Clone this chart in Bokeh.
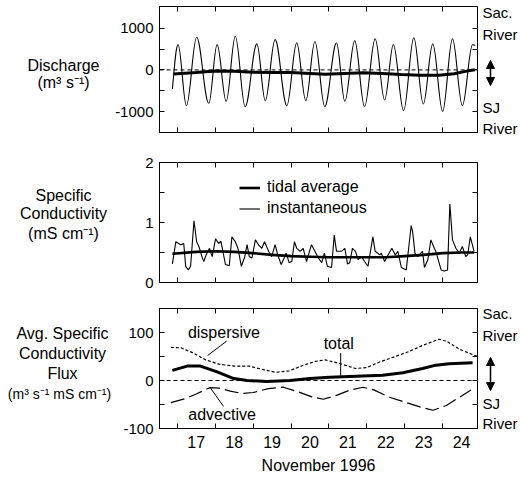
from bokeh.plotting import figure
from bokeh.layouts import column, row
from bokeh.models import (Range1d, FixedTicker, LinearAxis, Span, Label, Arrow,
                          NormalHead, Legend, LegendItem)
from bokeh.embed import file_html
from bokeh.resources import INLINE

FONT = "Liberation Sans"

# ---------------- data ----------------
day_ticks = [17, 18, 19, 20, 21, 22, 23, 24]
day_labels = ["17", "18", "19", "20", "21", "22", "23", "24"]

# Discharge: tidal extrema (day, m3/s)
tide_day = [16.87, 17.02, 17.24, 17.51, 17.83, 18.05, 18.29, 18.53, 18.79, 19.10,
            19.32, 19.58, 19.89, 20.15, 20.39, 20.63, 20.89, 21.20, 21.42, 21.68,
            21.94, 22.22, 22.47, 22.70, 22.97, 23.24, 23.49, 23.74, 24.00, 24.26,
            24.52, 24.79, 24.86]
tide_q = [-457, 607, -857, 783, -800, 607, -752, 807, -880, 623,
          -737, 727, -857, 647, -737, 680, -880, 647, -752, 703,
          -880, 743, -720, 607, -977, 767, -816, 623, -993, 743,
          -857, 607, 590]
# tidally averaged discharge
qavg_day = [16.9, 17.5, 18.0, 18.5, 19.0, 19.5, 20.0, 20.5, 20.9, 21.4, 21.9,
            22.4, 22.9, 23.4, 23.9, 24.3, 24.6, 24.85]
qavg = [-95, -60, -25, -30, -55, -60, -60, -85, -105, -85, -65,
        -85, -110, -125, -125, -90, -35, 5]

# Specific conductivity, instantaneous (mS/cm)
sc_day = [16.87, 16.96, 17.09, 17.17, 17.22, 17.29, 17.35, 17.44, 17.51, 17.57,
          17.66, 17.70, 17.76, 17.85, 17.92, 18.01, 18.09, 18.15, 18.27, 18.37,
          18.44, 18.53, 18.60, 18.69, 18.78, 18.84, 18.90, 18.97, 19.06, 19.14,
          19.23, 19.30, 19.41, 19.49, 19.58, 19.65, 19.74, 19.82, 19.87, 19.95,
          20.02, 20.09, 20.15, 20.24, 20.32, 20.41, 20.46, 20.54, 20.63, 20.72,
          20.81, 20.88, 20.96, 21.07, 21.14, 21.20, 21.33, 21.42, 21.49, 21.55,
          21.62, 21.70, 21.77, 21.86, 21.94, 22.03, 22.16, 22.22, 22.34, 22.38,
          22.47, 22.56, 22.66, 22.75, 22.82, 22.91, 23.04, 23.17, 23.21, 23.27,
          23.34, 23.47, 23.52, 23.61, 23.69, 23.78, 23.82, 23.96, 24.04, 24.13,
          24.19, 24.26, 24.35, 24.44, 24.52, 24.61, 24.66, 24.73, 24.83]
sc_inst = [0.31, 0.68, 0.63, 0.65, 0.27, 0.21, 0.27, 1.03, 0.68, 0.60,
           0.41, 0.35, 0.46, 0.57, 0.43, 0.73, 0.65, 0.69, 0.30, 0.28,
           0.76, 0.68, 0.57, 0.27, 0.43, 0.63, 0.43, 0.41, 0.71, 0.63,
           0.57, 0.68, 0.52, 0.43, 0.63, 0.46, 0.30, 0.41, 0.49, 0.33,
           0.35, 0.68, 0.57, 0.52, 0.57, 0.35, 0.46, 0.63, 0.52, 0.41,
           0.33, 0.49, 0.27, 0.25, 0.79, 0.52, 0.52, 0.57, 0.31, 0.33,
           0.57, 0.52, 0.38, 0.43, 0.35, 0.27, 0.76, 0.52, 0.46, 0.49,
           0.35, 0.46, 0.57, 0.46, 0.52, 0.25, 0.21, 0.95, 0.84, 0.49,
           0.43, 0.52, 0.25, 0.38, 0.71, 0.57, 0.52, 0.21, 0.19, 0.21,
           1.31, 0.71, 0.57, 0.49, 0.60, 0.43, 0.46, 0.76, 0.52]
# tidal average conductivity
scavg_day = [16.87, 17.5, 18.0, 18.5, 19.0, 19.5, 20.0, 20.5, 21.0, 21.5, 22.0,
             22.5, 23.0, 23.5, 24.0, 24.5, 24.83]
scavg = [0.48, 0.51, 0.52, 0.51, 0.49, 0.46, 0.44, 0.43, 0.42, 0.42, 0.42,
         0.42, 0.44, 0.46, 0.49, 0.50, 0.50]

# Average specific conductivity flux (m3/s mS/cm)
disp_day = [16.83, 17.1, 17.4, 17.75, 18.1, 18.5, 18.9, 19.25, 19.6, 19.95, 20.3,
            20.65, 20.9, 21.3, 21.7, 22.0, 22.35, 22.75, 23.1, 23.5, 23.9, 24.1,
            24.45, 24.92]
disp = [69, 68, 58, 43, 34, 30, 30, 23, 17, 20, 31,
        40, 43, 35, 25, 27, 39, 50, 60, 74, 86, 82,
        65, 50]
adv_day = [16.83, 17.2, 17.5, 17.85, 18.1, 18.4, 18.7, 19.0, 19.4, 19.8, 20.2,
           20.55, 20.85, 21.2, 21.55, 21.9, 22.2, 22.6, 23.0, 23.4, 23.75, 24.1,
           24.4, 24.75]
adv = [-46, -38, -28, -15, -16, -22, -27, -25, -17, -14, -24,
       -34, -39, -31, -20, -14, -20, -35, -45, -55, -62, -52,
       -37, -20]
tot_day = [16.87, 17.26, 17.61, 18.05, 18.49, 18.84, 19.36, 19.97, 20.50, 21.02,
           21.72, 22.42, 22.95, 23.47, 23.82, 24.17, 24.79]
tot = [21, 30, 30, 18, 4, 0, -2, 0, 4, 7,
       9, 11, 16, 25, 32, 35, 37]

# ---------------- layout constants ----------------
X0, X1 = 16.53, 24.92
LW = 112           # left title strip width
ML, MR = 45, 4     # main figure borders
FW = 320           # frame width (page x 157..477)
MW = ML + FW + MR
RX0 = LW + MW
PAGE_H = 479


def txt(lbl, size="16px"):
    lbl.text_font = FONT
    lbl.text_font_size = size
    lbl.text_color = "black"
    return lbl


def strip(x0, x1):
    """blank full-height canvas strip whose coordinates are page pixels (y downwards)"""
    s = figure(width=x1 - x0, height=PAGE_H, x_range=Range1d(x0, x1),
               y_range=Range1d(PAGE_H, 0),
               output_backend="svg", toolbar_location=None,
               x_axis_location=None, y_axis_location=None,
               min_border_left=0, min_border_right=0,
               min_border_top=0, min_border_bottom=0)
    s.grid.visible = False
    s.outline_line_color = None
    s.background_fill_color = "white"
    s.border_fill_color = "white"
    return s


def make_fig(height, top, bottom, yr, ymaj, ylabels, yminor, show_x=False):
    p = figure(width=MW, height=height, x_range=Range1d(X0, X1), y_range=yr,
               output_backend="svg", toolbar_location=None,
               x_axis_location=None, y_axis_location=None,
               min_border_left=ML, min_border_right=MR,
               min_border_top=top, min_border_bottom=bottom)
    p.grid.visible = False
    p.outline_line_color = "black"
    p.outline_line_alpha = 1
    p.background_fill_color = "white"
    p.border_fill_color = "white"

    mid = [d + 0.5 for d in day_ticks]
    for loc in ("below", "above"):
        if loc == "below" and show_x:
            ax = LinearAxis(ticker=FixedTicker(ticks=mid, minor_ticks=day_ticks),
                            major_tick_in=0, major_tick_out=0,
                            minor_tick_in=5, minor_tick_out=0,
                            axis_line_color="black", minor_tick_line_color="black")
            ax.major_label_overrides = {m: l for m, l in zip(mid, day_labels)}
            ax.major_label_text_font = FONT
            ax.major_label_text_font_size = "16px"
            ax.major_label_text_color = "black"
            ax.major_label_standoff = 7
            ax.axis_label = "November 1996"
            ax.axis_label_text_font = FONT
            ax.axis_label_text_font_size = "16px"
            ax.axis_label_text_font_style = "normal"
            ax.axis_label_text_color = "black"
            ax.axis_label_standoff = 6
        else:
            ax = LinearAxis(ticker=FixedTicker(ticks=[], minor_ticks=day_ticks),
                            major_tick_in=0, major_tick_out=0,
                            minor_tick_in=5, minor_tick_out=0,
                            axis_line_color="black", minor_tick_line_color="black",
                            major_label_standoff=0)
        p.add_layout(ax, loc)

    ay = LinearAxis(ticker=FixedTicker(ticks=ymaj, minor_ticks=yminor),
                    major_tick_in=5, major_tick_out=0, minor_tick_in=5, minor_tick_out=0,
                    axis_line_color="black", major_tick_line_color="black",
                    minor_tick_line_color="black")
    ay.major_label_overrides = {t: l for t, l in zip(ymaj, ylabels)}
    ay.major_label_text_font = FONT
    ay.major_label_text_font_size = "15px"
    ay.major_label_text_color = "black"
    ay.major_label_standoff = 6
    p.add_layout(ay, "left")

    ar = LinearAxis(ticker=FixedTicker(ticks=[], minor_ticks=ymaj + yminor),
                    major_tick_in=0, major_tick_out=0, minor_tick_in=5, minor_tick_out=0,
                    axis_line_color="black", minor_tick_line_color="black",
                    major_label_standoff=0)
    p.add_layout(ar, "right")
    return p


# ---------------- panel 1: discharge ----------------
p1 = make_fig(147, 6, 15, Range1d(-1500, 1520), [-1000, 0, 1000],
              ["-1000", "0", "1000"], [-500, 500])
p1.add_layout(Span(location=0, dimension="width", line_color="black",
                   line_dash="4 3", line_width=1))
K = 0.3642
bx0 = tide_day[:-1]
bx1 = tide_day[1:]
by0 = tide_q[:-1]
by1 = tide_q[1:]
cx0 = [a + K * (b - a) for a, b in zip(bx0, bx1)]
cx1 = [b - K * (b - a) for a, b in zip(bx0, bx1)]
cy0 = list(by0)
cy0[0] = by0[0] + 0.5 * (by1[0] - by0[0])
cy1 = list(by1)
p1.bezier(x0=bx0, y0=by0, x1=bx1, y1=by1, cx0=cx0, cy0=cy0, cx1=cx1, cy1=cy1,
          line_color="black", line_width=1.1)
p1.line(qavg_day, qavg, line_color="black", line_width=3)

# ---------------- panel 2: conductivity ----------------
p2 = make_fig(148, 15, 13, Range1d(0, 2), [0, 1, 2], ["0", "1", "2"], [0.5, 1.5])
r_inst = p2.line(sc_day, sc_inst, line_color="black", line_width=1.1)
r_avg = p2.line(scavg_day, scavg, line_color="black", line_width=2.6)
leg = Legend(items=[LegendItem(label="tidal average", renderers=[r_avg]),
                    LegendItem(label="instantaneous", renderers=[r_inst])],
             location=(80, 65), border_line_alpha=0, background_fill_alpha=0,
             label_text_font=FONT, label_text_font_size="16px", label_text_color="black",
             glyph_width=21, glyph_height=15, label_height=15, label_standoff=7,
             padding=0, margin=0, spacing=3)
p2.add_layout(leg)

# ---------------- panel 3: flux ----------------
p3 = make_fig(184, 13, 51, Range1d(-100, 150), [-100, 0, 100], ["-100", "0", "100"],
              [-50, 50], show_x=True)
p3.add_layout(Span(location=0, dimension="width", line_color="black",
                   line_dash="4 3", line_width=1))
p3.line(disp_day, disp, line_color="black", line_width=1.2, line_dash="3 2")
p3.line(adv_day, adv, line_color="black", line_width=1.2, line_dash="14 5")
p3.line(tot_day, tot, line_color="black", line_width=3)
p3.segment(x0=[18.3, 21.31, 17.87], y0=[82, 57, -15], x1=[17.8, 21.31, 18.22],
           y1=[52, 9, -54], line_color="black", line_width=1)
p3.add_layout(txt(Label(x=18.23, y=100, text="dispersive", text_align="center",
                        text_baseline="middle")))
p3.add_layout(txt(Label(x=21.26, y=78, text="total", text_align="center",
                        text_baseline="middle")))
p3.add_layout(txt(Label(x=18.18, y=-70, text="advective", text_align="center",
                        text_baseline="middle")))

# ---------------- left titles (page pixel positions) ----------------
left = strip(0, LW)
titles = [("Discharge", 63, 65, "16px"), ("(m³ s⁻¹)", 63, 82, "16px"),
          ("Specific", 63, 195, "16px"), ("Conductivity", 63, 213, "16px"),
          ("(mS cm⁻¹)", 63, 233, "16px"),
          ("Avg. Specific", 62, 333, "16px"), ("Conductivity", 62, 353, "16px"),
          ("Flux", 62, 373, "16px"), ("(m³ s⁻¹ mS cm⁻¹)", 59, 393, "14px")]
for t, x, y, sz in titles:
    left.add_layout(txt(Label(x=x, y=y, text=t, text_align="center",
                              text_baseline="middle"), sz))

# ---------------- right river labels / arrows ----------------
right = strip(RX0, 520)
for t, y in [("Sac.", 12), ("River", 34), ("SJ", 107), ("River", 128),
             ("Sac.", 313), ("River", 335), ("SJ", 403), ("River", 423)]:
    right.add_layout(txt(Label(x=482, y=y, text=t, text_align="left",
                               text_baseline="middle"), "15px"))
for ya, yb in [(60, 85), (357, 390)]:
    right.add_layout(Arrow(start=NormalHead(size=8, fill_color="black", line_color="black"),
                           end=NormalHead(size=8, fill_color="black", line_color="black"),
                           x_start=490, y_start=ya, x_end=490, y_end=yb,
                           line_width=1.5, line_color="black"))

layout = row(left, column(p1, p2, p3, spacing=0), right, spacing=0)
open("out.html", "w").write(file_html(layout, INLINE))
